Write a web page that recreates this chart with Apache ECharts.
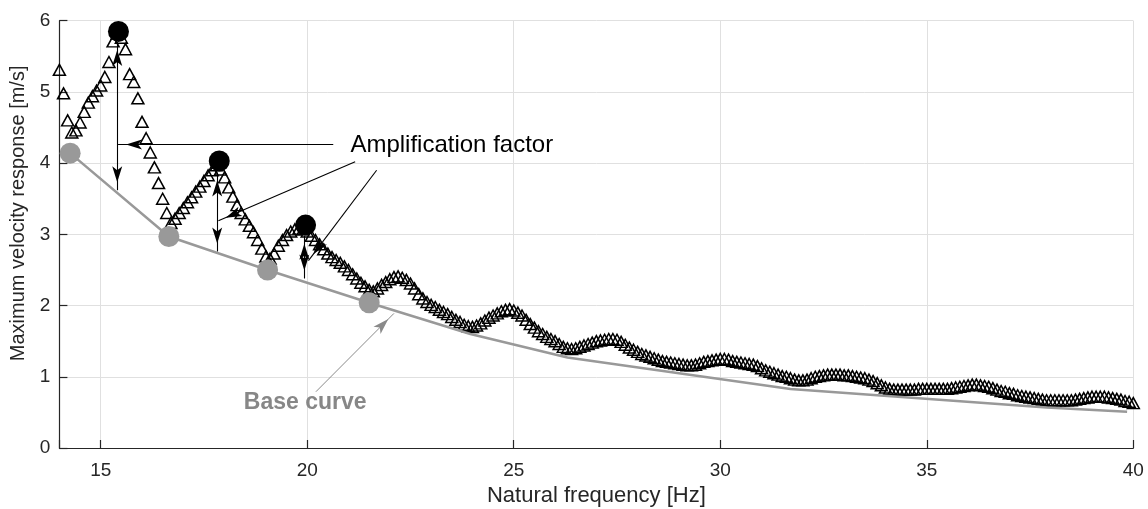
<!DOCTYPE html>
<html>
<head>
<meta charset="utf-8">
<title>Maximum velocity response</title>
<script src="https://cdn.jsdelivr.net/npm/echarts@6/dist/echarts.min.js"></script>
<style>
  html, body { margin: 0; padding: 0; background: #ffffff; }
  #chart { width: 1148px; height: 509px; }
</style>
</head>
<body>
<div id="chart"></div>
<script>
// Natural frequency samples [Hz]
const freq = [
  14.0, 14.1, 14.2, 14.3, 14.4, 14.5, 14.6, 14.7, 14.8, 14.9,
  15.0, 15.1, 15.2, 15.3, 15.4, 15.5, 15.6, 15.7, 15.8, 15.9,
  16.0, 16.1, 16.2, 16.3, 16.4, 16.5, 16.6, 16.7, 16.8, 16.9,
  17.0, 17.1, 17.2, 17.3, 17.4, 17.5, 17.6, 17.7, 17.8, 17.9,
  18.0, 18.1, 18.2, 18.3, 18.4, 18.5, 18.6, 18.7, 18.8, 18.9,
  19.0, 19.1, 19.2, 19.3, 19.4, 19.5, 19.6, 19.7, 19.8, 19.9,
  20.0, 20.1, 20.2, 20.3, 20.4, 20.5, 20.6, 20.7, 20.8, 20.9,
  21.0, 21.1, 21.2, 21.3, 21.4, 21.5, 21.6, 21.7, 21.8, 21.9,
  22.0, 22.1, 22.2, 22.3, 22.4, 22.5, 22.6, 22.7, 22.8, 22.9,
  23.0, 23.1, 23.2, 23.3, 23.4, 23.5, 23.6, 23.7, 23.8, 23.9,
  24.0, 24.1, 24.2, 24.3, 24.4, 24.5, 24.6, 24.7, 24.8, 24.9,
  25.0, 25.1, 25.2, 25.3, 25.4, 25.5, 25.6, 25.7, 25.8, 25.9,
  26.0, 26.1, 26.2, 26.3, 26.4, 26.5, 26.6, 26.7, 26.8, 26.9,
  27.0, 27.1, 27.2, 27.3, 27.4, 27.5, 27.6, 27.7, 27.8, 27.9,
  28.0, 28.1, 28.2, 28.3, 28.4, 28.5, 28.6, 28.7, 28.8, 28.9,
  29.0, 29.1, 29.2, 29.3, 29.4, 29.5, 29.6, 29.7, 29.8, 29.9,
  30.0, 30.1, 30.2, 30.3, 30.4, 30.5, 30.6, 30.7, 30.8, 30.9,
  31.0, 31.1, 31.2, 31.3, 31.4, 31.5, 31.6, 31.7, 31.8, 31.9,
  32.0, 32.1, 32.2, 32.3, 32.4, 32.5, 32.6, 32.7, 32.8, 32.9,
  33.0, 33.1, 33.2, 33.3, 33.4, 33.5, 33.6, 33.7, 33.8, 33.9,
  34.0, 34.1, 34.2, 34.3, 34.4, 34.5, 34.6, 34.7, 34.8, 34.9,
  35.0, 35.1, 35.2, 35.3, 35.4, 35.5, 35.6, 35.7, 35.8, 35.9,
  36.0, 36.1, 36.2, 36.3, 36.4, 36.5, 36.6, 36.7, 36.8, 36.9,
  37.0, 37.1, 37.2, 37.3, 37.4, 37.5, 37.6, 37.7, 37.8, 37.9,
  38.0, 38.1, 38.2, 38.3, 38.4, 38.5, 38.6, 38.7, 38.8, 38.9,
  39.0, 39.1, 39.2, 39.3, 39.4, 39.5, 39.6, 39.7, 39.8, 39.9,
  40.0
];

// Maximum velocity response [m/s] at each frequency
const velocity = [
  5.31, 4.98, 4.60, 4.43, 4.46, 4.57, 4.72, 4.85, 4.94, 5.02,
  5.09, 5.21, 5.42, 5.71, 5.82, 5.76, 5.60, 5.25, 5.14, 4.91,
  4.58, 4.35, 4.15, 3.94, 3.72, 3.50, 3.30, 3.16, 3.22, 3.30,
  3.37, 3.45, 3.52, 3.60, 3.67, 3.75, 3.83, 3.90, 3.97, 3.91,
  3.80, 3.66, 3.53, 3.41, 3.30, 3.21, 3.12, 3.03, 2.92, 2.80,
  2.69, 2.66, 2.73, 2.84, 2.92, 2.99, 3.04, 3.07, 3.08, 3.07,
  3.04, 2.98, 2.92, 2.86, 2.79, 2.73, 2.68, 2.64, 2.60, 2.55,
  2.50, 2.44, 2.38, 2.32, 2.27, 2.22, 2.20, 2.24, 2.29, 2.33,
  2.37, 2.40, 2.41, 2.39, 2.36, 2.31, 2.24, 2.16, 2.10, 2.05,
  2.01, 1.98, 1.94, 1.91, 1.88, 1.84, 1.80, 1.77, 1.73, 1.71,
  1.70, 1.72, 1.75, 1.79, 1.83, 1.86, 1.89, 1.92, 1.94, 1.95,
  1.93, 1.90, 1.86, 1.80, 1.74, 1.69, 1.64, 1.60, 1.56, 1.53,
  1.50, 1.46, 1.42, 1.40, 1.39, 1.40, 1.42, 1.44, 1.46, 1.48,
  1.50, 1.51, 1.52, 1.53, 1.53, 1.52, 1.49, 1.45, 1.41, 1.38,
  1.35, 1.32, 1.30, 1.28, 1.26, 1.24, 1.22, 1.21, 1.20, 1.19,
  1.18, 1.17, 1.16, 1.16, 1.17, 1.19, 1.21, 1.22, 1.23, 1.24,
  1.25, 1.25, 1.24, 1.22, 1.21, 1.20, 1.19, 1.18, 1.17, 1.15,
  1.12, 1.09, 1.07, 1.05, 1.03, 1.01, 1.00, 0.98, 0.96, 0.95,
  0.95, 0.96, 0.98, 1.00, 1.01, 1.02, 1.03, 1.03, 1.03, 1.03,
  1.02, 1.02, 1.01, 1.00, 0.99, 0.98, 0.96, 0.94, 0.91, 0.88,
  0.85, 0.83, 0.82, 0.82, 0.82, 0.82, 0.82, 0.82, 0.83, 0.83,
  0.83, 0.83, 0.83, 0.83, 0.83, 0.83, 0.84, 0.85, 0.86, 0.87,
  0.88, 0.89, 0.89, 0.88, 0.87, 0.86, 0.84, 0.82, 0.80, 0.79,
  0.77, 0.76, 0.74, 0.73, 0.72, 0.71, 0.70, 0.69, 0.68, 0.67,
  0.67, 0.67, 0.67, 0.67, 0.67, 0.67, 0.68, 0.69, 0.70, 0.71,
  0.72, 0.72, 0.72, 0.72, 0.71, 0.70, 0.69, 0.68, 0.66, 0.65,
  0.63
];

// Base curve vertices
const baseFreq = [14.26, 16.65, 19.04, 21.50, 23.95, 26.30, 31.70, 34.30, 37.90, 39.85];
const baseVel  = [4.14, 2.97, 2.50, 2.04, 1.60, 1.27, 0.83, 0.72, 0.57, 0.51];

// Troughs lying on the base curve
const troughFreq = [14.26, 16.65, 19.04, 21.50];
const troughVel  = [4.14, 2.97, 2.50, 2.04];

// Resonance peaks
const peakFreq = [15.43, 17.87, 19.96];
const peakVel  = [5.85, 4.03, 3.13];

// Amplification factor spans (peak down to base curve)
const ampFreq   = [15.40, 17.82, 19.93];
const ampTop    = [5.70, 3.87, 2.98];
const ampBottom = [3.62, 2.76, 2.38];

// Leader lines from the "Amplification factor" note to each span
const ampNote    = [23.50, 4.255];
const leaderFrom = [[20.63, 4.26], [21.16, 4.02], [21.68, 3.90]];
const leaderTo   = [[15.42, 4.26], [17.85, 3.19], [20.03, 2.63]];

// Leader line from the "Base curve" note to the curve
const baseNote     = [19.95, 0.64];
const baseLeader   = [[20.21, 0.79], [22.10, 1.89]];

const FONT = '"Liberation Sans", Arial, Helvetica, sans-serif';
const AXIS_COLOR = '#262626';
const GREY = '#999999';

const pairs = (xs, ys) => xs.map((x, i) => [x, ys[i]]);

const ampLines = ampFreq.map((f, i) => [
  { coord: [f, ampTop[i]], symbol: 'arrow' },
  { coord: [f, ampBottom[i]], symbol: 'arrow' }
]);
const leaderLines = leaderFrom.map((p, i) => [
  { coord: p, symbol: 'none' },
  { coord: leaderTo[i], symbol: 'arrow' }
]);
const baseLeaderLine = [
  { coord: baseLeader[0], symbol: 'none', lineStyle: { color: '#8a8a8a', width: 1 } },
  { coord: baseLeader[1], symbol: 'arrow' }
];

const chart = echarts.init(document.getElementById('chart'), null, { renderer: 'canvas' });

chart.setOption({
  animation: false,
  backgroundColor: '#ffffff',
  grid: {
    left: 59.4, right: 14.7, top: 20.7, bottom: 61,
    containLabel: false, outerBoundsMode: 'none'
  },
  xAxis: {
    type: 'value', min: 14, max: 40,
    name: 'Natural frequency [Hz]', nameLocation: 'middle', nameGap: 37,
    nameTextStyle: { fontFamily: FONT, fontSize: 22, color: AXIS_COLOR },
    axisLine: { show: true, onZero: false, lineStyle: { color: AXIS_COLOR, width: 1.2 } },
    axisTick: { show: true, inside: true, length: 8, lineStyle: { color: AXIS_COLOR, width: 1.2 } },
    axisLabel: {
      margin: 13, fontFamily: FONT, fontSize: 19, color: AXIS_COLOR,
      formatter: v => (v === 14 ? '' : String(v))
    },
    splitLine: { show: true, lineStyle: { color: '#e0e0e0', width: 1 } }
  },
  yAxis: {
    type: 'value', min: 0, max: 6, interval: 1,
    name: 'Maximum velocity response [m/s]', nameLocation: 'middle', nameGap: 28,
    nameTextStyle: { fontFamily: FONT, fontSize: 20, color: AXIS_COLOR, padding: [0, 0, 0, 42] },
    axisLine: { show: true, onZero: false, lineStyle: { color: AXIS_COLOR, width: 1.2 } },
    axisTick: { show: true, inside: true, length: 8, lineStyle: { color: AXIS_COLOR, width: 1.2 } },
    axisLabel: { margin: 9, fontFamily: FONT, fontSize: 19, color: AXIS_COLOR },
    splitLine: { show: true, lineStyle: { color: '#e0e0e0', width: 1 } }
  },
  series: [
    {
      name: 'Response',
      type: 'scatter',
      data: pairs(freq, velocity),
      symbol: 'triangle',
      symbolSize: [12, 11],
      itemStyle: { color: 'rgba(0,0,0,0)', borderColor: '#000000', borderWidth: 1.5, opacity: 1 },
      silent: true,
      z: 2
    },
    {
      name: 'Base curve',
      type: 'line',
      data: pairs(baseFreq, baseVel),
      symbol: 'none',
      lineStyle: { color: GREY, width: 2.5 },
      silent: true,
      z: 3
    },
    {
      name: 'Troughs',
      type: 'scatter',
      data: pairs(troughFreq, troughVel),
      symbol: 'circle',
      symbolSize: 21,
      itemStyle: { color: GREY, opacity: 1 },
      silent: true,
      z: 4
    },
    {
      name: 'Peaks',
      type: 'scatter',
      data: pairs(peakFreq, peakVel),
      symbol: 'circle',
      symbolSize: 21,
      itemStyle: { color: '#000000', opacity: 1 },
      silent: true,
      z: 5,
      markLine: {
        silent: true,
        animation: false,
        symbolSize: [7.5, 16],
        symbolOffset: [[0, 8], [0, 8]],
        label: { show: false },
        emphasis: { disabled: true },
        lineStyle: { color: '#000000', width: 1.1, type: 'solid', opacity: 1 },
        data: ampLines.concat(leaderLines, [baseLeaderLine])
      },
      markPoint: {
        silent: true,
        animation: false,
        symbol: 'circle',
        symbolSize: 0,
        data: [
          {
            coord: ampNote,
            label: {
              show: true, position: 'inside', formatter: 'Amplification factor',
              fontFamily: FONT, fontSize: 24, color: '#000000'
            }
          },
          {
            coord: baseNote,
            label: {
              show: true, position: 'inside', formatter: 'Base curve',
              fontFamily: FONT, fontSize: 23, fontWeight: 'bold', color: '#878787'
            }
          }
        ]
      }
    }
  ]
});
</script>
</body>
</html>
